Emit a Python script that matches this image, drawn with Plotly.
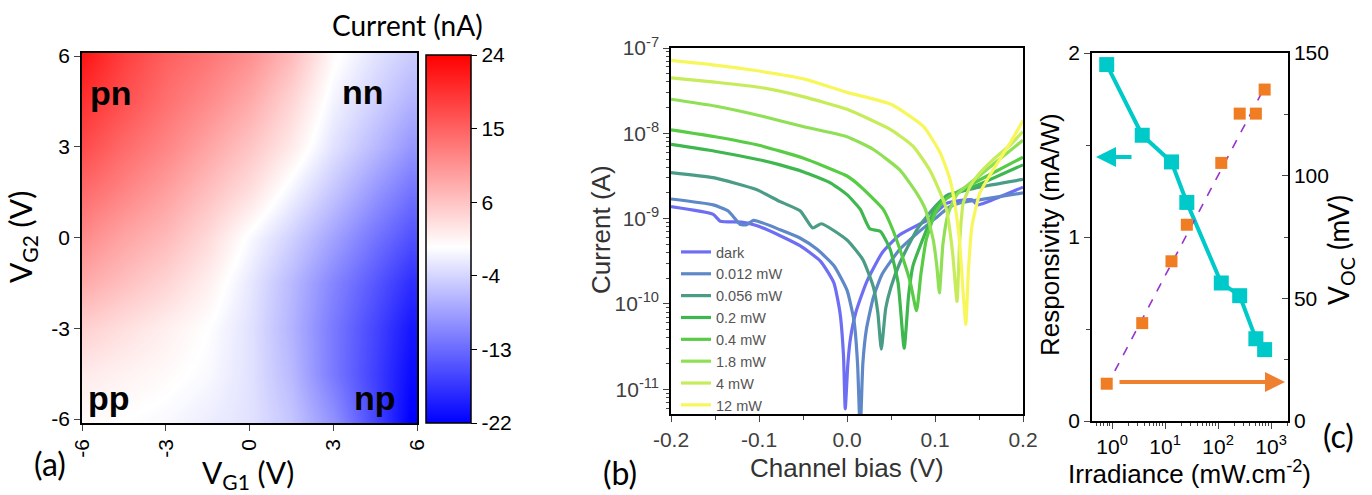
import plotly.graph_objects as go

W, H = 1372, 495
def fx(x): return x / W
def fy(y): return 1 - y / H

# ---------------- Panel (a): gate map ----------------
vg1 = [-6, -4.5, -3, -1.5, 0, 1.5, 3, 4.5, 5.75]
vg2 = [-6, -4.5, -3, -1.5, 0, 1.5, 3, 4.5, 6]
current_map_nA = [
    [0.5, 0, -0.5, -1.5, -2.5, -5, -9.5, -16, -22],
    [2, 1.2, 0.5, -0.5, -2.5, -6, -11.5, -16.5, -21],
    [4.5, 3, 1.5, 0, -2.5, -6.5, -11.5, -16, -20],
    [8, 6, 4, 1.5, -2, -6, -10.5, -14.5, -18],
    [11, 8.5, 6.5, 3.5, -0.5, -4, -8, -12, -15],
    [14, 11.5, 9, 6, 3, -1, -5, -9, -12],
    [17, 14, 11.5, 8.5, 5.5, 2, -2.5, -6, -9],
    [19.5, 16.5, 13.5, 11, 8, 4, -1, -4, -6.5],
    [22, 18, 15, 13, 10.5, 6.5, 0.5, -2.5, -4.5],
]
cbar_tickvals = [24, 14.8, 5.6, -3.6, -12.8, -22]
cbar_ticktext = ["24", "15", "6", "-4", "-13", "-22"]
gate_ticks = [-6, -3, 0, 3, 6]
gate_ticktext = ["-6", "-3", "0", "3", "6"]

# ---------------- Panel (b): I-V curves ----------------
labels_b = ["dark", "0.012 mW", "0.056 mW", "0.2 mW", "0.4 mW", "1.8 mW", "4 mW", "12 mW"]
colors_b = ["#6e6ef5", "#5f88c8", "#4a9c86", "#3db74e", "#58cc45", "#8fe055", "#c6ec5a", "#f7f75c"]

bias_dark = [-0.2, -0.152, -0.144, -0.12, -0.103, -0.076, -0.053, -0.03, -0.015, -0.008, -0.004, -0.002,
             0.001, 0.004, 0.01, 0.022, 0.04, 0.06, 0.094, 0.113, 0.142, 0.148, 0.16, 0.2]
cur_dark = [1.38e-9, 1.12e-9, 9.33e-10, 9.12e-10, 8.32e-10, 6.31e-10, 4.79e-10, 3.16e-10, 1.78e-10, 7.94e-11,
            2.51e-11, 5.89e-12, 2.00e-11, 3.98e-11, 7.94e-11, 1.78e-10, 3.98e-10, 6.46e-10, 1.0e-9, 1.51e-9,
            1.66e-9, 1.45e-9, 1.58e-9, 2.34e-9]

bias_012 = [-0.2, -0.152, -0.135, -0.121, -0.114, -0.106, -0.076, -0.053, -0.034, -0.015, 0.0, 0.008, 0.012,
            0.015, 0.018, 0.022, 0.03, 0.04, 0.06, 0.08, 0.1, 0.117, 0.13, 0.15, 0.2]
cur_012 = [1.70e-9, 1.45e-9, 1.23e-9, 8.51e-10, 8.51e-10, 9.55e-10, 7.41e-10, 5.89e-10, 4.37e-10, 2.82e-10,
           1.45e-10, 6.31e-11, 2.00e-11, 3.16e-12, 2.00e-11, 5.01e-11, 1.20e-10, 2.24e-10, 4.37e-10, 6.76e-10,
           1.0e-9, 1.38e-9, 1.55e-9, 1.66e-9, 2.00e-9]

bias_056 = [-0.2, -0.152, -0.103, -0.076, -0.053, -0.039, -0.029, 0.0, 0.018, 0.03, 0.035, 0.039, 0.044,
            0.05, 0.06, 0.08, 0.1, 0.115, 0.13, 0.15, 0.2]
cur_056 = [3.47e-9, 3.02e-9, 2.19e-9, 1.58e-9, 1.23e-9, 7.76e-10, 8.71e-10, 5.62e-10, 3.31e-10, 1.58e-10,
           7.94e-11, 2.95e-11, 8.91e-11, 1.58e-10, 3.02e-10, 7.59e-10, 1.38e-9, 1.91e-9, 2.09e-9, 2.34e-9, 2.88e-9]

bias_02 = [-0.2, -0.15, -0.1, -0.076, -0.05, -0.019, 0.0, 0.015, 0.026, 0.038, 0.049, 0.058, 0.065, 0.07,
           0.075, 0.09, 0.1, 0.11, 0.12, 0.15, 0.2]
cur_02 = [7.41e-9, 6.17e-9, 4.90e-9, 4.27e-9, 3.55e-9, 2.63e-9, 1.91e-9, 1.29e-9, 7.59e-10, 7.08e-10,
          4.37e-10, 1.78e-10, 3.02e-11, 1.26e-10, 2.82e-10, 7.24e-10, 1.32e-9, 1.74e-9, 1.91e-9, 2.51e-9, 4.27e-9]

bias_04 = [-0.2, -0.15, -0.1, -0.05, 0.0, 0.015, 0.041, 0.052, 0.064, 0.072, 0.079, 0.084, 0.09, 0.1,
           0.11, 0.12, 0.15, 0.2]
cur_04 = [1.10e-8, 9.12e-9, 7.24e-9, 5.13e-9, 3.16e-9, 2.40e-9, 1.29e-9, 7.41e-10, 3.31e-10, 1.78e-10,
          8.32e-11, 2.24e-10, 5.62e-10, 1.15e-9, 1.62e-9, 1.91e-9, 2.82e-9, 5.25e-9]

bias_18 = [-0.2, -0.15, -0.1, -0.05, 0.0, 0.03, 0.06, 0.079, 0.089, 0.098, 0.102, 0.105, 0.109, 0.115,
           0.125, 0.15, 0.175, 0.2]
cur_18 = [2.51e-8, 2.09e-8, 1.62e-8, 1.20e-8, 9.12e-9, 6.46e-9, 3.72e-9, 2.00e-9, 1.29e-9, 5.62e-10,
          2.82e-10, 1.35e-10, 5.01e-10, 1.15e-9, 1.91e-9, 3.16e-9, 5.13e-9, 8.32e-9]

bias_4 = [-0.2, -0.15, -0.1, -0.05, 0.0, 0.05, 0.075, 0.094, 0.106, 0.113, 0.12, 0.125, 0.128, 0.132,
          0.14, 0.148, 0.166, 0.185, 0.2]
cur_4 = [4.47e-8, 3.98e-8, 3.47e-8, 2.69e-8, 1.91e-8, 1.10e-8, 7.08e-9, 3.72e-9, 2.00e-9, 1.29e-9,
         3.98e-10, 1.07e-10, 5.25e-10, 1.51e-9, 2.40e-9, 3.16e-9, 4.90e-9, 7.24e-9, 1.05e-8]

bias_12 = [-0.2, -0.15, -0.1, -0.05, 0.0, 0.05, 0.087, 0.106, 0.117, 0.123, 0.128, 0.132, 0.135, 0.138,
           0.142, 0.151, 0.166, 0.185, 0.2]
cur_12 = [7.16e-8, 6.31e-8, 5.37e-8, 4.37e-8, 3.02e-8, 2.19e-8, 1.20e-8, 5.89e-9, 2.88e-9, 1.38e-9,
          5.25e-10, 1.35e-10, 5.75e-11, 2.51e-10, 8.13e-10, 2.00e-9, 3.72e-9, 7.59e-9, 1.41e-8]

biases_b = [bias_dark, bias_012, bias_056, bias_02, bias_04, bias_18, bias_4, bias_12]
currents_b = [cur_dark, cur_012, cur_056, cur_02, cur_04, cur_18, cur_4, cur_12]
decade_vals = [1e-11, 1e-10, 1e-9, 1e-8, 1e-7]
decade_text = ["10<sup>-11</sup>", "10<sup>-10</sup>", "10<sup>-9</sup>", "10<sup>-8</sup>", "10<sup>-7</sup>"]
bias_tickvals = [-0.2, -0.1, 0.0, 0.1, 0.2]
bias_ticktext = ["-0.2", "-0.1", "0.0", "0.1", "0.2"]

# ---------------- Panel (c): responsivity & Voc ----------------
irradiance = [0.79, 3.7, 13.2, 25.7, 115, 256, 517, 757]
responsivity = [1.937, 1.553, 1.408, 1.188, 0.750, 0.681, 0.447, 0.388]
voc_mV = [15.2, 39.9, 65.1, 80.0, 105.2, 125.3, 125.3, 135.1]
fit_irr = [0.78, 760]
fit_voc = [13.9, 136.1]
irr_tickvals = [1, 10, 100, 1000]
irr_ticktext = ["10<sup>0</sup>", "10<sup>1</sup>", "10<sup>2</sup>", "10<sup>3</sup>"]

FONT = "Liberation Sans, Arial, sans-serif"
FONT2 = "Lato, Liberation Sans, sans-serif"

fig = go.Figure()

fig.add_trace(go.Heatmap(
    x=vg1, y=vg2, z=current_map_nA, zsmooth="best", zmin=-22, zmax=24,
    colorscale=[[0, "rgb(0,0,255)"], [22 / 46, "rgb(255,255,255)"], [1, "rgb(255,0,0)"]],
    xaxis="x", yaxis="y",
    colorbar=dict(
        x=fx(426), xanchor="left", xpad=0, y=fy(239), yanchor="middle", ypad=0,
        thickness=45, thicknessmode="pixels", len=368, lenmode="pixels",
        outlinewidth=1.5, outlinecolor="black",
        tickvals=cbar_tickvals, ticktext=cbar_ticktext, ticks="outside", ticklen=6,
        tickcolor="black", tickfont=dict(size=21, family=FONT, color="black"),
    ),
    hoverinfo="skip",
))

for lab, col, xb, yb in zip(labels_b, colors_b, biases_b, currents_b):
    fig.add_trace(go.Scatter(x=xb, y=yb, mode="lines", name=lab, xaxis="x2", yaxis="y2",
                             line=dict(color=col, width=3.2, shape="spline", smoothing=0.5)))

fig.add_trace(go.Scatter(x=irradiance, y=responsivity, mode="lines+markers", xaxis="x3", yaxis="y3",
                         showlegend=False, line=dict(color="#00c9c9", width=4),
                         marker=dict(symbol="square", size=15, color="#00c9c9")))
fig.add_trace(go.Scatter(x=fit_irr, y=fit_voc, mode="lines", xaxis="x3", yaxis="y4", showlegend=False,
                         line=dict(color="#9933cc", width=1.6, dash="dash")))
fig.add_trace(go.Scatter(x=irradiance, y=voc_mV, mode="markers", xaxis="x3", yaxis="y4", showlegend=False,
                         marker=dict(symbol="square", size=12, color="#f07d23")))

tickfont = dict(size=21, family=FONT, color="black")
tickfont_b = dict(size=21, family=FONT, color="#404040")
line_kw = dict(showline=True, linecolor="black", linewidth=1.5, showgrid=False, zeroline=False,
               automargin=False)
bare = dict(showticklabels=False, showline=False, showgrid=False, zeroline=False, automargin=False)

layout = dict(
    template="none",
    width=W, height=H, autosize=False, margin=dict(l=0, r=0, t=0, b=0, pad=0),
    paper_bgcolor="white", plot_bgcolor="white",
    showlegend=True,
    legend=dict(x=fx(676), y=fy(236), xanchor="left", yanchor="top", bgcolor="rgba(0,0,0,0)",
                borderwidth=0, font=dict(size=14.5, family=FONT, color="#555555"),
                tracegroupgap=0, itemwidth=30),
    # panel a
    xaxis=dict(domain=[fx(82), fx(417)], anchor="y", range=[-6, 6], tickvals=gate_ticks,
               ticktext=gate_ticktext, ticks="outside", ticklen=6, tickangle=-90, tickfont=tickfont,
               mirror=True, **line_kw),
    yaxis=dict(domain=[fy(423), fy(53)], anchor="x", range=[-6.13, 6.1], tickvals=gate_ticks,
               ticktext=gate_ticktext, ticks="outside", ticklen=6, tickfont=tickfont, mirror=True, **line_kw),
    # panel b
    xaxis2=dict(domain=[fx(671), fx(1023)], anchor="y2", range=[-0.2, 0.2], tickvals=bias_tickvals,
                ticktext=bias_ticktext, ticks="outside", ticklen=6, tickfont=tickfont_b, mirror=True,
                minor=dict(dtick=0.05, ticks="outside", ticklen=4), **line_kw),
    yaxis2=dict(domain=[fy(414), fy(48)], anchor="x2", type="log", range=[-11.29, -7.0],
                tickvals=decade_vals, ticktext=decade_text, ticks="outside", ticklen=6,
                tickfont=tickfont_b, mirror=True,
                minor=dict(dtick="D1", ticks="outside", ticklen=3), **line_kw),
    xaxis4=dict(overlaying="x2", anchor="y2", side="top", range=[-0.2, 0.2], dtick=0.05,
                ticks="inside", ticklen=5, **bare),
    yaxis5=dict(overlaying="y2", anchor="x2", side="right", type="log", range=[-11.29, -7.0],
                tickvals=decade_vals, ticks="inside", ticklen=6,
                minor=dict(dtick="D1", ticks="inside", ticklen=3), **bare),
    # panel c
    xaxis3=dict(domain=[fx(1092), fx(1288)], anchor="y3", type="log", range=[-0.38, 3.32],
                tickvals=irr_tickvals, ticktext=irr_ticktext, ticks="outside", ticklen=6,
                tickfont=tickfont, mirror=True,
                minor=dict(dtick="D1", ticks="outside", ticklen=3), **line_kw),
    yaxis3=dict(domain=[fy(421), fy(53)], anchor="x3", range=[0, 2], dtick=1, ticks="outside", ticklen=6,
                tickfont=tickfont, minor=dict(dtick=0.5, ticks="outside", ticklen=4), **line_kw),
    yaxis4=dict(overlaying="y3", anchor="x3", side="right", range=[0, 150], dtick=50, ticks="inside",
                ticklen=6, tickfont=tickfont, minor=dict(dtick=25, ticks="inside", ticklen=4), **line_kw),
    xaxis5=dict(overlaying="x3", anchor="y3", side="top", type="log", range=[-0.38, 3.32],
                tickvals=irr_tickvals, ticks="inside", ticklen=6,
                minor=dict(dtick="D1", ticks="inside", ticklen=3), **bare),
)
fig.update_layout(**layout)

ann = []
def text(x, y, s, size, family=FONT, color="black", angle=0, bold=False):
    if bold:
        s = "<b>" + s + "</b>"
    ann.append(dict(x=fx(x), y=fy(y), xref="paper", yref="paper", text=s, showarrow=False,
                    textangle=angle, xanchor="center", yanchor="middle",
                    font=dict(size=size, family=family, color=color)))

# panel a texts
text(407, 25, "Current (nA)", 28, FONT2)
text(22, 237, "V<sub>G2</sub> (V)", 30, FONT2, angle=-90)
text(248, 474, "V<sub>G1</sub> (V)", 30, FONT2)
text(111, 93, "pn", 34, FONT, bold=True)
text(363, 92, "nn", 34, FONT, bold=True)
text(109, 398, "pp", 34, FONT, bold=True)
text(375, 398, "np", 34, FONT, bold=True)
text(50, 463, "(a)", 32, FONT2)
# panel b texts
text(601, 230, "Current (A)", 26, FONT, color="#333333", angle=-90)
text(847, 468, "Channel bias (V)", 26, FONT, color="#333333")
text(620, 472, "(b)", 32, FONT2)
# panel c texts
text(1050, 235, "Responsivity (mA/W)", 26, FONT, angle=-90)
text(1340, 250, "V<sub>OC</sub> (mV)", 28, FONT2, angle=-90)
text(1189, 472, "Irradiance (mW.cm<sup>-2</sup>)", 26, FONT)
text(1338, 435, "(c)", 32, FONT2)

# arrows in panel c
ann.append(dict(x=fx(1096), y=fy(157), xref="paper", yref="paper", ax=37, ay=0, text="",
                showarrow=True, arrowhead=2, arrowsize=1, arrowwidth=4, arrowcolor="#00c9c9"))
ann.append(dict(x=fx(1285), y=fy(382), xref="paper", yref="paper", ax=-167, ay=0, text="",
                showarrow=True, arrowhead=2, arrowsize=1, arrowwidth=4, arrowcolor="#ee8030"))
fig.update_layout(annotations=ann)

fig.write_html("out.html", config={"displayModeBar": False},
               post_script="document.body.style.margin='0';document.body.style.overflow='hidden';")
